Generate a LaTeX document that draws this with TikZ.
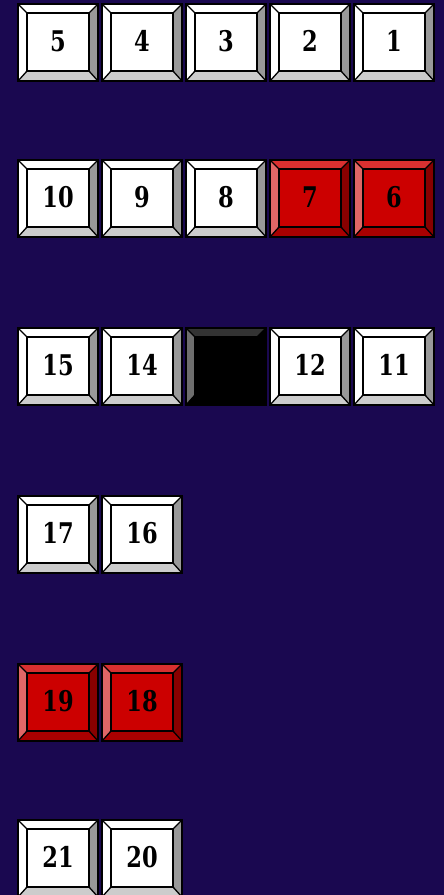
\documentclass[tikz,border=0pt]{standalone}
\usepackage{fontspec}
\newfontfamily\digfont{DejaVu Serif}
\definecolor{bg}{HTML}{1A0850}
\definecolor{wface}{HTML}{FFFFFF}
\definecolor{wtop}{HTML}{FFFFFF}
\definecolor{wleft}{HTML}{FFFFFF}
\definecolor{wright}{HTML}{999999}
\definecolor{wbottom}{HTML}{CCCCCC}
\definecolor{rface}{HTML}{CC0000}
\definecolor{rtop}{HTML}{D83030}
\definecolor{rleft}{HTML}{E06666}
\definecolor{rright}{HTML}{880000}
\definecolor{rbottom}{HTML}{A80000}
\definecolor{kface}{HTML}{000000}
\definecolor{ktop}{HTML}{333333}
\definecolor{kleft}{HTML}{6E6E6E}
\definecolor{kright}{HTML}{000000}
\definecolor{kbottom}{HTML}{000000}
\tikzset{
  edge/.style={draw=black, line width=1.3pt, line join=miter},
  lbl/.style={font=\digfont\bfseries\fontsize{25}{25}\selectfont, text=black, inner sep=0pt}
}
\newcommand\tile[4]{%
  \begin{scope}[shift={(#1,#2)}]
    \fill[#4face] (0,0) rectangle (80,77);
    \fill[#4top] (0,0) -- (80,0) -- (71,9) -- (9,9) -- cycle;
    \fill[#4left] (0,0) -- (9,9) -- (9,67) -- (0,77) -- cycle;
    \fill[#4right] (80,0) -- (80,77) -- (71,67) -- (71,9) -- cycle;
    \fill[#4bottom] (0,77) -- (80,77) -- (71,67) -- (9,67) -- cycle;
    \draw[edge] (0,0) rectangle (80,77);
    \draw[edge] (9,9) rectangle (71,67);
    \draw[edge] (0,0) -- (9,9) (80,0) -- (71,9) (0,77) -- (9,67) (80,77) -- (71,67);
    \node[lbl] (t#3) at (40,37) {\scalebox{0.9}[1.14]{#3}};
  \end{scope}}
\newcommand\blanktile[3]{%
  \begin{scope}[shift={(#1,#2)}]
    \fill[#3face] (0,0) rectangle (80,77);
    \fill[#3top] (0,0) -- (80,0) -- (71,9) -- (9,9) -- cycle;
    \fill[#3left] (0,0) -- (9,9) -- (9,67) -- (0,77) -- cycle;
    \fill[#3right] (80,0) -- (80,77) -- (71,67) -- (71,9) -- cycle;
    \fill[#3bottom] (0,77) -- (80,77) -- (71,67) -- (9,67) -- cycle;
    \draw[edge] (0,0) rectangle (80,77);
    \draw[edge] (9,9) rectangle (71,67);
    \draw[edge] (0,0) -- (9,9) (80,0) -- (71,9) (0,77) -- (9,67) (80,77) -- (71,67);
  \end{scope}}
\begin{document}
\begin{tikzpicture}[x=1pt,y=-1pt]
\useasboundingbox (0,0) rectangle (444,895);
\clip (0,0) rectangle (444,895);
\fill[bg] (0,0) rectangle (444,895);
% row 1
\tile{18}{4}{5}{w}
\tile{102}{4}{4}{w}
\tile{186}{4}{3}{w}
\tile{270}{4}{2}{w}
\tile{354}{4}{1}{w}
% row 2
\tile{18}{160}{10}{w}
\tile{102}{160}{9}{w}
\tile{186}{160}{8}{w}
\tile{270}{160}{7}{r}
\tile{354}{160}{6}{r}
% row 3
\tile{18}{328}{15}{w}
\tile{102}{328}{14}{w}
\blanktile{186}{328}{k}
\tile{270}{328}{12}{w}
\tile{354}{328}{11}{w}
% row 4
\tile{18}{496}{17}{w}
\tile{102}{496}{16}{w}
% row 5
\tile{18}{664}{19}{r}
\tile{102}{664}{18}{r}
% row 6
\tile{18}{820}{21}{w}
\tile{102}{820}{20}{w}
\end{tikzpicture}
\end{document}
